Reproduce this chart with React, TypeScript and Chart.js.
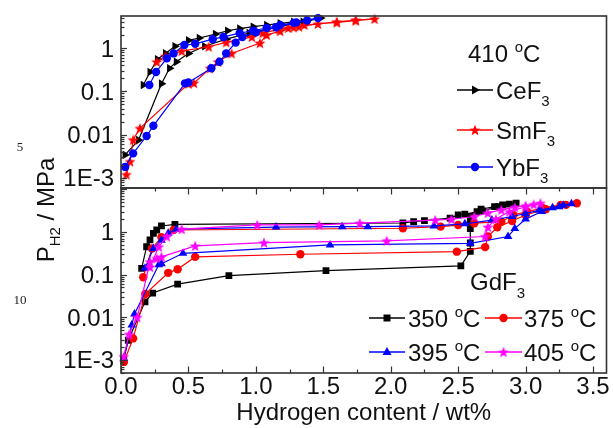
import React, { useEffect, useRef } from "react";
import { Chart, registerables } from "chart.js";
Chart.register(...registerables);

const W = 613;
const H = 428;
const FONT = '"Liberation Sans", Arial, Helvetica, sans-serif';
const TXT = "#111";
const AXIS = "#333";

// ---------- top panel: 410 °C ----------
const ceF3X = [0.165, 0.215, 0.27, 0.33, 0.40, 0.50, 0.58, 0.70, 0.79, 0.88, 0.98, 1.08, 1.18, 1.28, 1.38, 1.48, 1.35, 1.15, 0.95, 0.78, 0.62, 0.50, 0.41, 0.36, 0.30, 0.13, 0.03];
const ceF3Y = [0.14, 0.28, 0.55, 0.75, 1.1, 1.5, 1.7, 2.1, 2.5, 2.8, 3.1, 3.4, 3.7, 4.0, 4.4, 4.9, 4.0, 3.0, 2.2, 1.6, 1.1, 0.75, 0.48, 0.34, 0.15, 0.0075, 0.0034];

const smF3X = [0.265, 0.33, 0.45, 0.65, 0.78, 0.97, 1.05, 1.17, 1.24, 1.32, 1.46, 1.60, 1.74, 1.88, 1.74, 1.60, 1.36, 1.28, 1.18, 1.08, 1.03, 0.82, 0.72, 0.66, 0.54, 0.50, 0.14, 0.09, 0.067, 0.04];
const smF3Y = [0.48, 0.65, 0.85, 1.07, 1.35, 1.8, 2.2, 2.7, 2.9, 3.1, 3.6, 4.0, 4.4, 4.7, 4.3, 3.9, 3.4, 3.0, 2.45, 2.0, 1.3, 0.75, 0.48, 0.34, 0.155, 0.15, 0.014, 0.0076, 0.0024, 0.0012];

const ybF3X = [0.21, 0.26, 0.34, 0.39, 0.47, 0.55, 0.68, 0.76, 0.88, 0.98, 1.08, 1.18, 1.28, 1.38, 1.46, 1.30, 1.15, 1.0, 0.90, 0.85, 0.78, 0.73, 0.67, 0.50, 0.475, 0.24, 0.19, 0.09, 0.03];
const ybF3Y = [0.14, 0.28, 0.58, 0.75, 1.17, 1.25, 1.6, 1.8, 2.2, 2.5, 2.9, 3.4, 3.8, 4.3, 4.9, 3.9, 3.0, 2.3, 1.8, 1.33, 0.75, 0.48, 0.34, 0.16, 0.153, 0.016, 0.0093, 0.0037, 0.0018];

// ---------- bottom panel: GdF3 ----------
const gd350X = [0.153, 0.19, 0.215, 0.24, 0.265, 0.30, 0.40, 2.09, 2.17, 2.25, 2.44, 2.50, 2.55, 2.64, 2.67, 2.77, 2.83, 2.88, 2.93, 2.80, 2.68, 2.59, 2.59, 2.59, 2.59, 2.59, 2.52, 1.52, 0.80, 0.42, 0.235, 0.178, 0.054, 0.02];
const gd350Y = [0.14, 0.45, 0.65, 0.93, 1.11, 1.38, 1.5, 1.62, 1.74, 1.84, 2.1, 2.5, 2.6, 3.0, 3.4, 3.9, 4.3, 4.5, 4.7, 3.9, 3.1, 2.3, 1.6, 1.2, 0.55, 0.35, 0.16, 0.124, 0.095, 0.06, 0.037, 0.023, 0.0029, 0.001];

const gd375X = [0.165, 0.23, 0.30, 0.39, 2.09, 2.37, 2.50, 2.62, 2.82, 2.91, 3.01, 3.13, 3.26, 3.38, 3.30, 3.15, 3.0, 2.9, 2.79, 2.72, 2.70, 2.49, 1.33, 0.55, 0.42, 0.35, 0.18, 0.09, 0.022];
const gd375Y = [0.087, 0.41, 0.75, 1.11, 1.22, 1.33, 1.45, 1.6, 1.74, 2.5, 3.0, 3.6, 4.3, 4.7, 4.3, 3.4, 2.5, 1.8, 1.29, 0.78, 0.44, 0.345, 0.30, 0.26, 0.133, 0.11, 0.035, 0.0032, 0.0009];

const gd395X = [0.178, 0.24, 0.30, 0.35, 0.41, 1.15, 1.64, 1.83, 2.32, 2.55, 2.75, 2.9, 3.0, 3.1, 3.2, 3.28, 3.34, 3.25, 3.12, 3.0, 2.92, 2.87, 2.59, 1.55, 0.46, 0.30, 0.28, 0.10, 0.08, 0.02];
const gd395Y = [0.14, 0.41, 0.64, 0.93, 1.16, 1.3, 1.33, 1.33, 1.38, 1.55, 1.9, 2.3, 2.7, 3.2, 3.7, 4.2, 4.6, 3.9, 3.0, 2.0, 1.2, 0.78, 0.54, 0.495, 0.316, 0.18, 0.17, 0.012, 0.0066, 0.0011];

const gd405X = [0.215, 0.28, 0.34, 0.45, 1.01, 1.47, 1.77, 2.33, 2.45, 2.62, 2.72, 2.82, 2.92, 3.0, 3.06, 3.11, 3.0, 2.88, 2.78, 2.72, 2.70, 1.97, 1.06, 0.55, 0.30, 0.265, 0.215, 0.12, 0.06, 0.02];
const gd405Y = [0.15, 0.45, 0.78, 1.16, 1.46, 1.46, 1.6, 1.9, 1.98, 2.3, 2.8, 3.3, 3.8, 4.1, 4.4, 4.7, 3.9, 3.0, 2.0, 1.3, 0.78, 0.62, 0.56, 0.47, 0.26, 0.24, 0.2, 0.01, 0.004, 0.0012];

// ---------- axes ----------
const xMajorTicks = [0, 0.5, 1, 1.5, 2, 2.5, 3, 3.5];
const xTickLabels = ["0.0", "0.5", "1.0", "1.5", "2.0", "2.5", "3.0", "3.5"];
const yMajorTicks = [0.001, 0.01, 0.1, 1];
const yTickLabels = ["1E-3", "0.01", "0.1", "1"];
const X_MIN = 0;
const X_MAX = 3.6;
const TOP_Y_MIN = 5.87e-4;
const TOP_Y_MAX = 5.48;
const BOT_Y_MIN = 4.95e-4;
const BOT_Y_MAX = 10.7;

const PLOT_LEFT = 121;
const PLOT_RIGHT = 606.5;
const SPLIT = 188;
const PLOT_TOP = 16;
const PLOT_BOTTOM = 373;

const pts = (xs: number[], ys: number[]) => xs.map((x, i) => ({ x, y: ys[i] }));

function makeStar(color: string, R: number) {
  const c = document.createElement("canvas");
  const s = Math.ceil(R * 2 + 2);
  c.width = s;
  c.height = s;
  const g = c.getContext("2d")!;
  g.fillStyle = color;
  g.beginPath();
  for (let i = 0; i < 10; i++) {
    const r = i % 2 === 0 ? R : R * 0.42;
    const a = -Math.PI / 2 + (i * Math.PI) / 5;
    const px = s / 2 + r * Math.cos(a);
    const py = s / 2 + r * Math.sin(a) + 0.5;
    if (i === 0) g.moveTo(px, py);
    else g.lineTo(px, py);
  }
  g.closePath();
  g.fill();
  return c;
}

type Part = [string, number, number];
function richWidth(ctx: CanvasRenderingContext2D, parts: Part[]) {
  let w = 0;
  for (const [t, s] of parts) {
    ctx.font = `${s}px ${FONT}`;
    w += ctx.measureText(t).width;
  }
  return w;
}
function drawRich(ctx: CanvasRenderingContext2D, parts: Part[], x: number, y: number) {
  let cx = x;
  ctx.textAlign = "left";
  ctx.textBaseline = "alphabetic";
  for (const [t, s, dy] of parts) {
    ctx.font = `${s}px ${FONT}`;
    ctx.fillText(t, cx, y + dy);
    cx += ctx.measureText(t).width;
  }
  return cx;
}
const degC = (num: string): Part[] => [[num + " ", 24, 0], ["o", 15, -10], ["C", 24, 0]];

function seg(ctx: CanvasRenderingContext2D, x1: number, y1: number, x2: number, y2: number) {
  ctx.beginPath();
  ctx.moveTo(x1, y1);
  ctx.lineTo(x2, y2);
  ctx.stroke();
}

type Marker = "square" | "circle" | "triUp" | "triRight" | HTMLCanvasElement;
function legendItem(ctx: CanvasRenderingContext2D, color: string, marker: Marker, x1: number, x2: number, y: number) {
  ctx.save();
  ctx.strokeStyle = color;
  ctx.fillStyle = color;
  ctx.lineWidth = 1.3;
  seg(ctx, x1, y, x2, y);
  const cx = (x1 + x2) / 2;
  ctx.beginPath();
  if (marker === "square") {
    ctx.rect(cx - 3.5, y - 3.5, 7, 7);
    ctx.fill();
  } else if (marker === "circle") {
    ctx.arc(cx, y, 4.2, 0, Math.PI * 2);
    ctx.fill();
  } else if (marker === "triUp") {
    ctx.moveTo(cx, y - 5);
    ctx.lineTo(cx + 4.5, y + 3);
    ctx.lineTo(cx - 4.5, y + 3);
    ctx.closePath();
    ctx.fill();
  } else if (marker === "triRight") {
    ctx.moveTo(cx + 5, y);
    ctx.lineTo(cx - 3, y - 4.5);
    ctx.lineTo(cx - 3, y + 4.5);
    ctx.closePath();
    ctx.fill();
  } else {
    ctx.drawImage(marker, cx - marker.width / 2, y - marker.height / 2);
  }
  ctx.restore();
}

function drawYAxis(chart: any) {
  const ctx: CanvasRenderingContext2D = chart.ctx;
  const ys = chart.scales.y;
  const { left } = chart.chartArea;
  ctx.strokeStyle = AXIS;
  ctx.lineWidth = 1.2;
  for (let n = -4; n <= 1; n++) {
    for (let k = 1; k <= 9; k++) {
      const v = k * Math.pow(10, n);
      if (v < ys.min || v > ys.max) continue;
      const py = Math.round(ys.getPixelForValue(v)) + 0.5;
      seg(ctx, left, py, left + (k === 1 ? 6 : 3.5), py);
    }
  }
  ctx.fillStyle = TXT;
  ctx.font = `24px ${FONT}`;
  ctx.textAlign = "right";
  ctx.textBaseline = "alphabetic";
  yMajorTicks.forEach((v, i) => {
    const py = ys.getPixelForValue(v);
    ctx.fillText(yTickLabels[i], left - 7, py + 8.5);
  });
}

function drawFrame(chart: any) {
  const ctx: CanvasRenderingContext2D = chart.ctx;
  const { left, right, top, bottom } = chart.chartArea;
  ctx.strokeStyle = AXIS;
  ctx.lineWidth = 1.6;
  ctx.strokeRect(left, top, right - left, bottom - top);
}

const topPlugin = (sm: HTMLCanvasElement) => ({
  id: "topPanel",
  afterDatasetsDraw(chart: any) {
    const ctx: CanvasRenderingContext2D = chart.ctx;
    ctx.save();
    drawFrame(chart);
    drawYAxis(chart);
    // legend
    ctx.fillStyle = TXT;
    drawRich(ctx, degC("410"), 468, 62);
    const rows: [string, Marker, string, number][] = [
      ["#000000", "triRight", "CeF", 90],
      ["#ff0000", sm, "SmF", 130],
      ["#0000ff", "circle", "YbF", 167],
    ];
    for (const [c, m, t, y] of rows) {
      legendItem(ctx, c, m, 457, 493, y);
      ctx.fillStyle = TXT;
      drawRich(ctx, [[t, 24, 0], ["3", 15, 7]], 496, y + 8.5);
    }
    // y title
    ctx.save();
    ctx.translate(54, 210);
    ctx.rotate(-Math.PI / 2);
    const parts: Part[] = [["P", 24, 0], ["H2", 15, 6], [" / MPa", 24, 0]];
    const w = richWidth(ctx, parts);
    ctx.fillStyle = TXT;
    drawRich(ctx, parts, -w / 2, 0);
    ctx.restore();
    // margin line numbers
    ctx.fillStyle = "#222";
    ctx.font = `13px "Liberation Serif", "Times New Roman", serif`;
    ctx.textAlign = "center";
    ctx.textBaseline = "middle";
    ctx.fillText("5", 20, 148);
    ctx.fillText("10", 20, 301);
    ctx.restore();
  },
});

const bottomPlugin = (mag: HTMLCanvasElement) => ({
  id: "bottomPanel",
  afterDatasetsDraw(chart: any) {
    const ctx: CanvasRenderingContext2D = chart.ctx;
    const xs = chart.scales.x;
    const { top, bottom } = chart.chartArea;
    ctx.save();
    drawFrame(chart);
    drawYAxis(chart);
    // x ticks (top, pointing down; bottom, pointing up)
    ctx.strokeStyle = AXIS;
    ctx.lineWidth = 1.2;
    for (let v = 0; v <= 3.6 + 1e-9; v += 0.25) {
      const major = Math.abs(v / 0.5 - Math.round(v / 0.5)) < 1e-6;
      const px = Math.round(xs.getPixelForValue(v)) + 0.5;
      const len = major ? 6.5 : 3.5;
      seg(ctx, px, bottom, px, bottom - len);
      seg(ctx, px, top, px, top + len);
    }
    ctx.fillStyle = TXT;
    ctx.font = `24px ${FONT}`;
    ctx.textAlign = "center";
    ctx.textBaseline = "alphabetic";
    xMajorTicks.forEach((v, i) => {
      ctx.fillText(xTickLabels[i], xs.getPixelForValue(v), 394);
    });
    ctx.fillText("Hydrogen content / wt%", (chart.chartArea.left + chart.chartArea.right) / 2, 420);
    // legend
    drawRich(ctx, [["GdF", 24, 0], ["3", 15, 8]], 470, 290);
    legendItem(ctx, "#000000", "square", 369, 405, 318);
    ctx.fillStyle = TXT;
    drawRich(ctx, degC("350"), 408, 326.5);
    legendItem(ctx, "#ff0000", "circle", 485, 522, 318);
    ctx.fillStyle = TXT;
    drawRich(ctx, degC("375"), 524, 326.5);
    legendItem(ctx, "#0000ff", "triUp", 369, 405, 352);
    ctx.fillStyle = TXT;
    drawRich(ctx, degC("395"), 408, 360.5);
    legendItem(ctx, "#ff00ff", mag, 485, 522, 352);
    ctx.fillStyle = TXT;
    drawRich(ctx, degC("405"), 524, 360.5);
    ctx.restore();
  },
});

function ds(label: string, xs: number[], ys: number[], color: string, style: any, radius: number, rotation = 0) {
  return {
    label,
    data: pts(xs, ys),
    borderColor: color,
    backgroundColor: color,
    borderWidth: 1.2,
    pointStyle: style,
    pointRadius: radius,
    pointRotation: rotation,
    pointBorderWidth: 0,
    pointBackgroundColor: color,
    tension: 0,
    fill: false,
    clip: 6,
  };
}

function baseOptions(padTop: number, padBottom: number, yMin: number, yMax: number) {
  return {
    responsive: false,
    animation: false as const,
    devicePixelRatio: 1,
    events: [] as any[],
    layout: { padding: { left: PLOT_LEFT, right: W - PLOT_RIGHT, top: padTop, bottom: padBottom } },
    plugins: { legend: { display: false }, tooltip: { enabled: false }, title: { display: false } },
    scales: {
      x: { type: "linear" as const, min: X_MIN, max: X_MAX, display: false },
      y: { type: "logarithmic" as const, min: yMin, max: yMax, display: false },
    },
  };
}

export default function App() {
  const topRef = useRef<HTMLCanvasElement>(null);
  const botRef = useRef<HTMLCanvasElement>(null);

  useEffect(() => {
    const smStar = makeStar("#ff0000", 5.8);
    const magStar = makeStar("#ff00ff", 5.8);
    const top = new Chart(topRef.current!, {
      type: "line",
      data: {
        datasets: [
          ds("YbF3", ybF3X, ybF3Y, "#0000ff", "circle", 4.2),
          ds("SmF3", smF3X, smF3Y, "#ff0000", smStar, 5),
          ds("CeF3", ceF3X, ceF3Y, "#000000", "triangle", 5, 90),
        ],
      },
      options: baseOptions(PLOT_TOP, H - SPLIT, TOP_Y_MIN, TOP_Y_MAX) as any,
      plugins: [topPlugin(smStar)],
    });
    const bot = new Chart(botRef.current!, {
      type: "line",
      data: {
        datasets: [
          ds("405 °C", gd405X, gd405Y, "#ff00ff", magStar, 5),
          ds("395 °C", gd395X, gd395Y, "#0000ff", "triangle", 5),
          ds("375 °C", gd375X, gd375Y, "#ff0000", "circle", 4.2),
          ds("350 °C", gd350X, gd350Y, "#000000", "rect", 4.8),
        ],
      },
      options: baseOptions(SPLIT, H - PLOT_BOTTOM, BOT_Y_MIN, BOT_Y_MAX) as any,
      plugins: [bottomPlugin(magStar)],
    });
    return () => {
      top.destroy();
      bot.destroy();
    };
  }, []);

  return (
    <div style={{ position: "absolute", left: 0, top: 0, width: W, height: H, background: "#fff" }}>
      <canvas ref={botRef} width={W} height={H} style={{ position: "absolute", left: 0, top: 0 }} />
      <canvas ref={topRef} width={W} height={H} style={{ position: "absolute", left: 0, top: 0 }} />
    </div>
  );
}
